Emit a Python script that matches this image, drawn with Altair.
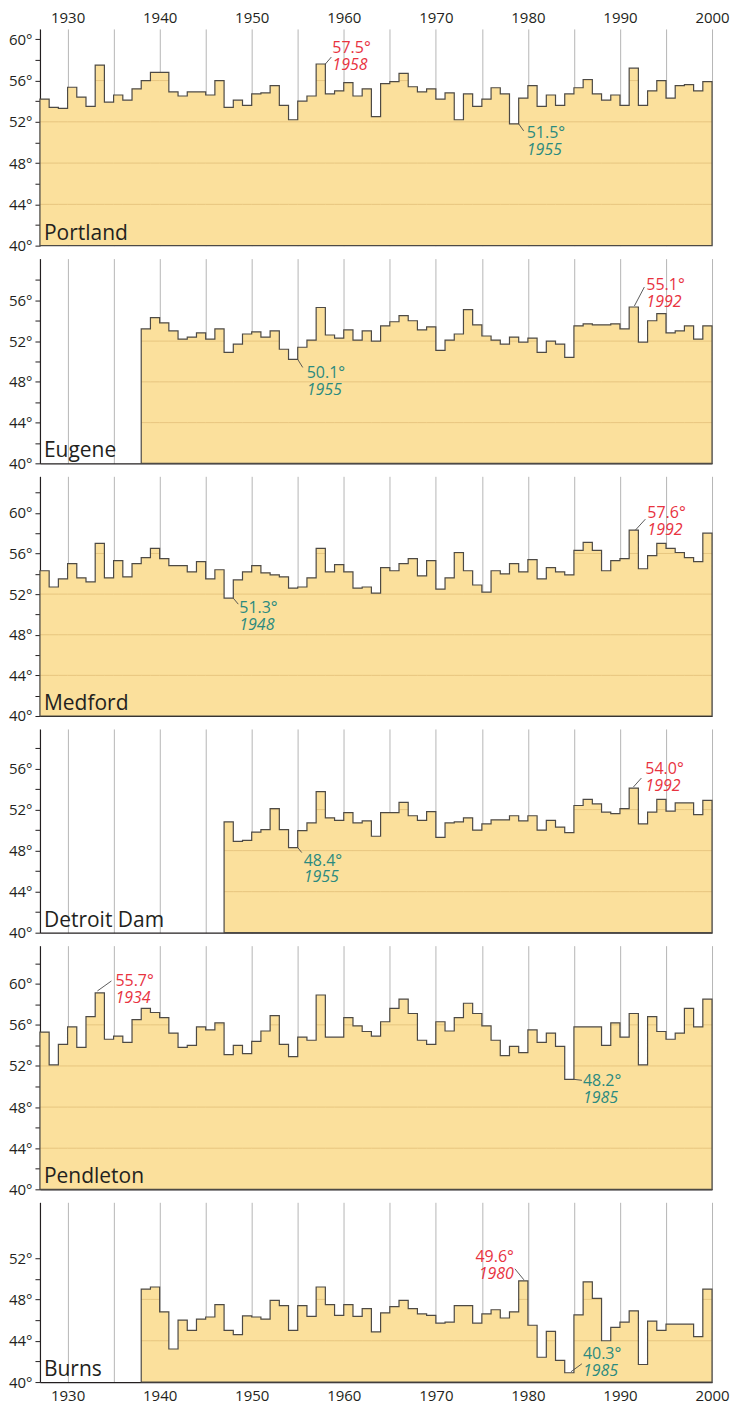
import altair as alt
import pandas as pd

# ---------------- data (annual mean temperature, °F) ----------------
STATIONS = ["Portland", "Eugene", "Medford", "Detroit Dam", "Pendleton", "Burns"]
START_YEARS = [1928, 1939, 1928, 1948, 1928, 1939]

portland = [54.2, 53.4, 53.3, 55.35, 54.4, 53.5, 57.5, 53.9, 54.6, 54.1,
            55.2, 56.0, 56.8, 56.8, 54.9, 54.5, 54.9, 54.9, 54.6, 56.0,
            53.4, 54.1, 53.6, 54.7, 54.8, 55.5, 53.6, 52.2, 54.0, 54.5,
            57.6, 54.7, 55.0, 55.8, 54.5, 55.2, 52.5, 55.7, 55.9, 56.7,
            55.4, 54.9, 55.2, 54.2, 54.8, 52.2, 54.7, 53.5, 54.2, 55.3,
            54.7, 51.8, 54.3, 55.5, 53.5, 54.6, 53.6, 54.7, 55.3, 56.1,
            54.7, 54.1, 54.6, 53.6, 57.2, 53.6, 55.0, 56.0, 54.3, 55.5,
            55.6, 55.0, 55.9]
eugene = [53.2, 54.3, 53.8, 53.0, 52.2, 52.4, 52.8, 52.2, 53.2, 50.9,
          51.7, 52.7, 52.9, 52.4, 53.0, 51.2, 50.2, 51.4, 52.1, 55.3,
          52.6, 52.3, 53.1, 52.1, 53.0, 52.0, 53.5, 53.9, 54.5, 54.0,
          53.1, 53.4, 51.1, 52.1, 52.7, 55.1, 53.6, 52.5, 52.1, 51.7,
          52.4, 51.9, 52.3, 50.9, 52.0, 51.7, 50.4, 53.5, 53.7, 53.6,
          53.6, 53.7, 53.2, 55.35, 51.9, 54.0, 54.7, 52.8, 53.0, 53.5,
          52.2, 53.5]
medford = [54.3, 52.7, 53.5, 55.0, 53.6, 53.2, 57.0, 53.6, 55.3, 53.7,
           55.0, 55.6, 56.5, 55.5, 54.8, 54.8, 54.2, 55.2, 53.5, 54.4,
           51.6, 53.4, 54.2, 54.8, 54.1, 53.9, 53.7, 52.6, 52.7, 53.6,
           56.5, 54.2, 54.9, 54.2, 52.6, 52.7, 52.1, 54.6, 54.3, 55.0,
           55.5, 53.8, 55.3, 52.5, 53.6, 56.1, 54.3, 52.9, 52.2, 54.3,
           54.0, 55.0, 54.2, 55.4, 53.5, 54.6, 54.2, 53.9, 56.3, 57.1,
           56.3, 54.3, 55.3, 55.5, 58.3, 54.5, 55.8, 57.0, 56.5, 56.1,
           55.6, 55.2, 58.0]
detroit_dam = [50.8, 48.9, 49.0, 49.8, 50.05, 52.1, 50.05, 48.3, 49.95, 50.7,
               53.75, 51.2, 50.95, 51.7, 50.7, 50.9, 49.4, 51.7, 51.7, 52.7,
               51.4, 50.95, 51.8, 49.3, 50.7, 50.8, 51.2, 50.0, 50.6, 51.0,
               51.0, 51.4, 50.9, 51.4, 50.0, 50.95, 50.3, 49.75, 52.4, 53.0,
               52.55, 51.75, 51.6, 52.1, 54.1, 50.6, 51.75, 53.0, 51.85, 52.65,
               52.65, 51.5, 52.9]
pendleton = [55.3, 52.1, 54.1, 55.8, 53.8, 56.8, 59.1, 54.6, 54.9, 54.3,
             56.5, 57.6, 57.2, 56.7, 55.2, 53.8, 54.0, 55.8, 55.5, 56.2,
             53.1, 54.0, 53.2, 54.4, 55.4, 56.9, 54.1, 52.9, 54.8, 54.5,
             58.9, 54.8, 54.8, 56.7, 55.9, 55.35, 54.9, 56.3, 57.6, 58.5,
             57.1, 54.5, 54.1, 56.3, 55.4, 56.7, 58.1, 57.1, 55.9, 54.5,
             53.0, 53.9, 53.3, 55.5, 54.3, 55.2, 53.9, 50.7, 55.8, 55.8,
             55.8, 54.0, 56.2, 54.8, 57.1, 52.1, 56.8, 55.35, 54.6, 55.2,
             57.6, 55.8, 58.5]
burns = [49.0, 49.2, 46.8, 43.2, 46.0, 45.0, 46.1, 46.3, 47.5, 45.0,
         44.6, 46.4, 46.3, 46.1, 47.9, 47.4, 45.0, 47.4, 46.35, 49.2,
         47.5, 46.45, 47.5, 46.35, 47.1, 44.85, 46.7, 47.3, 47.9, 47.1,
         46.6, 46.45, 45.7, 45.8, 47.4, 47.4, 45.7, 46.6, 47.0, 46.2,
         46.8, 49.8, 45.5, 42.4, 44.9, 42.1, 40.9, 46.5, 49.7, 48.1,
         44.0, 45.3, 45.8, 46.9, 41.7, 45.9, 45.0, 45.6, 45.6, 45.6,
         44.4, 49.0]
SERIES = [portland, eugene, medford, detroit_dam, pendleton, burns]

# record annotations (as printed on the original)
HIGH_YEARS = [1958, 1992, 1992, 1992, 1934, 1980]
HIGH_VALUE_LABELS = ["57.5°", "55.1°", "57.6°", "54.0°", "55.7°", "49.6°"]
HIGH_YEAR_LABELS = ["1958", "1992", "1992", "1992", "1934", "1980"]
LOW_YEARS = [1979, 1955, 1948, 1955, 1985, 1985]
LOW_VALUE_LABELS = ["51.5°", "50.1°", "51.3°", "48.4°", "48.2°", "40.3°"]
LOW_YEAR_LABELS = ["1955", "1955", "1948", "1955", "1985", "1985"]

GRID_LEVELS = [44, 48, 52, 56, 60]
X_TICKS = list(range(1930, 2001, 5))

# ---------------- styling / layout ----------------
FILL = "#fbe09c"
OUTLINE = "#4d4a45"
GRID_H = "#e2bf78"
GRID_V = "#a3a3a3"
RED = "#e8333f"
TEAL = "#2b8a7f"
INK = "#231f20"
FONT = "Open Sans"
X0, X1 = 1927, 2000
W = 673
HEIGHTS = [217, 205, 240, 204, 244, 180]
SPACING = 13
Y_TOPS = [61.0, 60.1, 63.6, 59.86, 63.7, 57.4]
TICK_MAX = [60, 58, 62, 58, 62, 52]

# annotation placement: text dx, baseline dy (value line, year line), align, leader offsets
HIGH_STYLE = [
    dict(dx=7, dy1=-11, dy2=6, align="left", lead=(0, 0, 6, -7)),
    dict(dx=8, dy1=-17, dy2=0, align="left", lead=(-4, -1, 6, -20)),
    dict(dx=9, dy1=-12, dy2=5, align="left", lead=(-3, 0, 7, -11)),
    dict(dx=7, dy1=-14, dy2=3, align="left", lead=(-5, -1, 3, -10)),
    dict(dx=11, dy1=-7, dy2=10, align="left", lead=(-7, -2, 7, -12)),
    dict(dx=-14, dy1=-19, dy2=-2, align="right", lead=(-4, -1, -13, -12)),
]
LOW_STYLE = [
    dict(dx=8, dy1=14, dy2=31, align="left", lead=(0, 0, 5, 7)),
    dict(dx=9, dy1=19, dy2=36, align="left", lead=(0, 0, 5, 8)),
    dict(dx=6, dy1=15, dy2=32, align="left", lead=(0, 0, 5, 6)),
    dict(dx=6, dy1=18, dy2=35, align="left", lead=(0, 0, 4, 5)),
    dict(dx=9, dy1=7, dy2=24, align="left", lead=(0, 0, 8, 1)),
    dict(dx=9, dy1=-14, dy2=3, align="left", lead=(-3, -1, 8, -9)),
]


def x_axis(i):
    common = dict(values=X_TICKS, grid=True, gridColor=GRID_V, gridWidth=0.8,
                  title=None, format="d", labelFlush=False, labelOverlap=False,
                  labelFont=FONT, labelFontSize=15, labelColor=INK,
                  labelExpr="datum.value % 10 == 0 ? datum.label : ''",
                  ticks=False, tickSize=0)
    if i == 0:
        return alt.Axis(orient="top", domain=False, labelPadding=3, **common)
    if i == len(STATIONS) - 1:
        return alt.Axis(orient="bottom", domain=True, domainColor=INK,
                        domainWidth=1.2, labelPadding=6, **common)
    return alt.Axis(orient="bottom", domain=True, domainColor=INK,
                    domainWidth=1.2, labels=False, **common)


def y_axis(i):
    return alt.Axis(values=list(range(40, TICK_MAX[i] + 1, 2)),
                    labelExpr="datum.value % 4 == 0 ? datum.value + '°' : ''",
                    grid=False, title=None, domainColor=INK, domainWidth=1.2,
                    tickColor=INK, tickSize=5, tickWidth=1, labelPadding=3,
                    labelFont=FONT, labelFontSize=15, labelColor=INK,
                    labelOverlap=False)


def panel(i):
    vals = SERIES[i]
    start = START_YEARS[i]
    years = list(range(start, start + len(vals)))
    h = HEIGHTS[i]
    top = Y_TOPS[i]
    xs = alt.Scale(domain=[X0, X1], nice=False, zero=False)
    ys = alt.Scale(domain=[40, top], nice=False, zero=False)
    ax, ay = x_axis(i), y_axis(i)

    def X(field):
        return alt.X(field, scale=xs, axis=ax)

    def Y(field):
        return alt.Y(field, scale=ys, axis=ay)

    # each year's value covers the interval [year-1, year]
    steps = pd.DataFrame({"x": [y - 1 for y in years] + [years[-1]],
                          "v": vals + [vals[-1]]})
    base = alt.Chart(steps)
    fill = base.mark_area(interpolate="step-after", color=FILL).encode(
        x=X("x:Q"), y=Y("v:Q"), y2=alt.Y2Datum(40))
    outline = base.mark_area(interpolate="step-after", fill=FILL, fillOpacity=0,
                             stroke=OUTLINE, strokeWidth=1.2).encode(
        x=X("x:Q"), y=Y("v:Q"), y2=alt.Y2Datum(40))

    # horizontal guide lines, visible only inside the filled area
    rows = []
    for y, v in zip(years, vals):
        for lv in GRID_LEVELS:
            if lv < top and v > lv:
                rows.append({"x": y - 1, "x1": y, "v": lv})
    grid = alt.Chart(pd.DataFrame(rows)).mark_rule(color=GRID_H, strokeWidth=0.8).encode(
        x=X("x:Q"), x2=alt.X2("x1"), y=Y("v:Q"))

    name = alt.Chart(pd.DataFrame({"name": [STATIONS[i]]})).mark_text(
        align="left", baseline="alphabetic", font=FONT, fontSize=21, color=INK).encode(
        x=alt.value(4), y=alt.value(h - 6), text="name:N")

    layers = [fill, grid, outline]
    for yr, vlab, ylab, color, st in (
            (HIGH_YEARS[i], HIGH_VALUE_LABELS[i], HIGH_YEAR_LABELS[i], RED, HIGH_STYLE[i]),
            (LOW_YEARS[i], LOW_VALUE_LABELS[i], LOW_YEAR_LABELS[i], TEAL, LOW_STYLE[i])):
        d = alt.Chart(pd.DataFrame({"x": [yr], "v": [vals[yr - start]],
                                    "lab": [vlab], "yl": [ylab]}))
        lx1, ly1, lx2, ly2 = st["lead"]
        layers.append(d.mark_rule(color="#4a4a4a", strokeWidth=0.9, xOffset=lx1,
                                  yOffset=ly1, x2Offset=lx2, y2Offset=ly2).encode(
            x=X("x:Q"), y=Y("v:Q"), x2=alt.X2("x"), y2=alt.Y2("v")))
        layers.append(d.mark_text(align=st["align"], baseline="alphabetic", dx=st["dx"],
                                  dy=st["dy1"], font=FONT, fontSize=16, color=color).encode(
            x=X("x:Q"), y=Y("v:Q"), text="lab:N"))
        layers.append(d.mark_text(align=st["align"], baseline="alphabetic", dx=st["dx"],
                                  dy=st["dy2"], font=FONT, fontSize=16, fontStyle="italic",
                                  color=color).encode(
            x=X("x:Q"), y=Y("v:Q"), text="yl:N"))
    layers.append(name)
    return alt.layer(*layers).properties(width=W, height=h)


chart = alt.vconcat(*[panel(i) for i in range(len(STATIONS))],
                    spacing=SPACING, bounds="flush").properties(
    padding={"top": 2, "left": 0, "right": 0, "bottom": 0},
    background="white").configure_view(strokeWidth=0)

chart.save("out.html", embed_options={"renderer": "svg", "actions": False})
